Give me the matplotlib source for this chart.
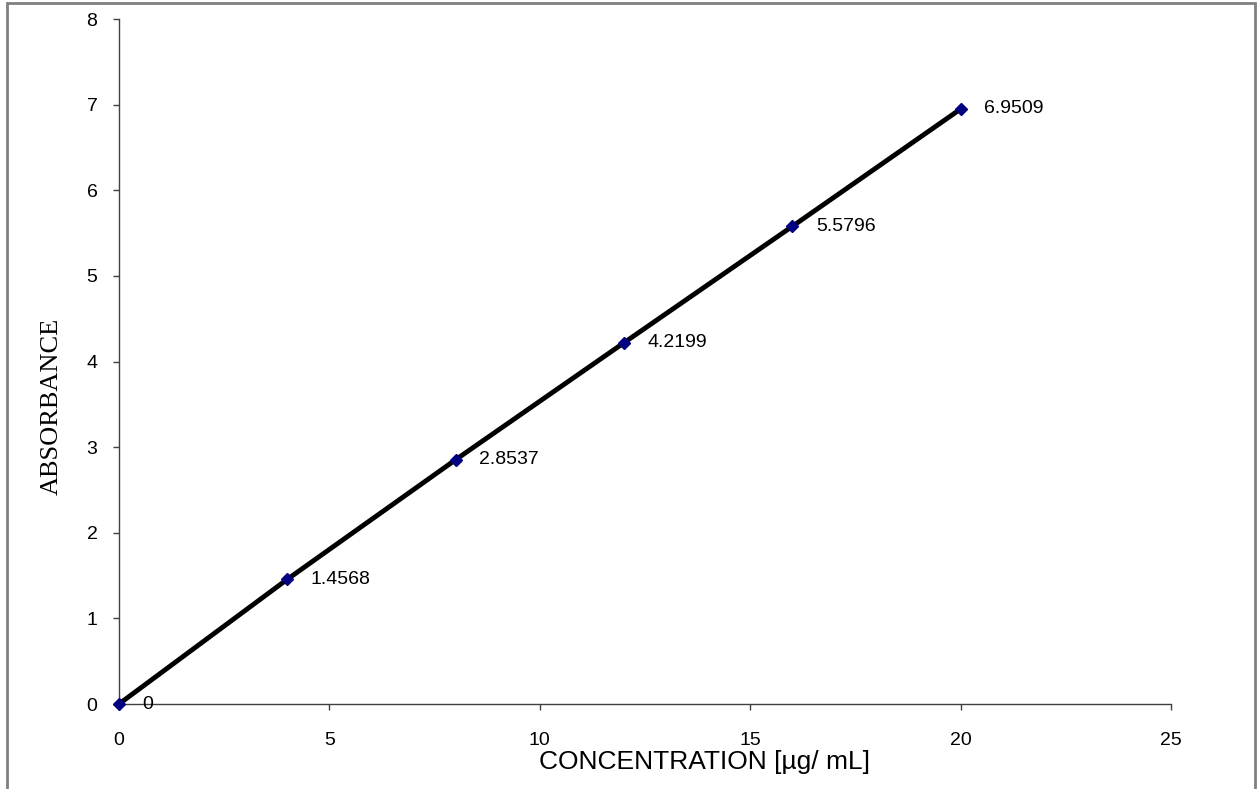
import matplotlib.pyplot as plt
from matplotlib.patches import Rectangle

conc = [0, 4, 8, 12, 16, 20]
absorb = [0, 1.4568, 2.8537, 4.2199, 5.5796, 6.9509]
labels = ['0', '1.4568', '2.8537', '4.2199', '5.5796', '6.9509']

fig = plt.figure(figsize=(12.6, 7.89), dpi=100)
ax = fig.add_axes([0.0944, 0.1077, 0.835, 0.868])

# figure frame
fig.patches.append(Rectangle((7/1260, -0.01), 1248/1260, 1 - 3/789 + 0.01,
                             transform=fig.transFigure, fill=False,
                             edgecolor='#808080', linewidth=2))

ax.plot(conc, absorb, color='black', linewidth=3.5, zorder=2)
ax.plot(conc, absorb, linestyle='none', marker='D', markersize=6.5,
        color='#000080', zorder=3, clip_on=False)
for x, y, t in zip(conc, absorb, labels):
    ax.annotate(t, (x, y), xytext=(17, 0), textcoords='offset points',
                va='center', ha='left', fontsize=14, family='Liberation Sans')

ax.set_xlim(0, 25)
ax.set_ylim(0, 8)
ax.set_xticks(range(0, 26, 5))
ax.set_yticks(range(0, 9))
for s in ['top', 'right']:
    ax.spines[s].set_visible(False)
for s in ['left', 'bottom']:
    ax.spines[s].set_color('#404040')
    ax.spines[s].set_linewidth(1)
ax.tick_params(direction='out', length=4.5, color='#404040', width=1,
               labelsize=14)
ax.tick_params(axis='x', pad=16)
ax.tick_params(axis='y', pad=11)
for lb in ax.get_xticklabels() + ax.get_yticklabels():
    lb.set_family('Liberation Sans')

ax.set_xlabel('CONCENTRATION [µg/ mL]', fontsize=19, family='Liberation Sans',
              va='center')
ax.xaxis.set_label_coords(0.557, -0.085)
ax.set_ylabel('ABSORBANCE', fontsize=19, family='Liberation Serif',
              va='center')
ax.yaxis.set_label_coords(-0.0637, 0.435)

fig.savefig('out.png', dpi=100)
